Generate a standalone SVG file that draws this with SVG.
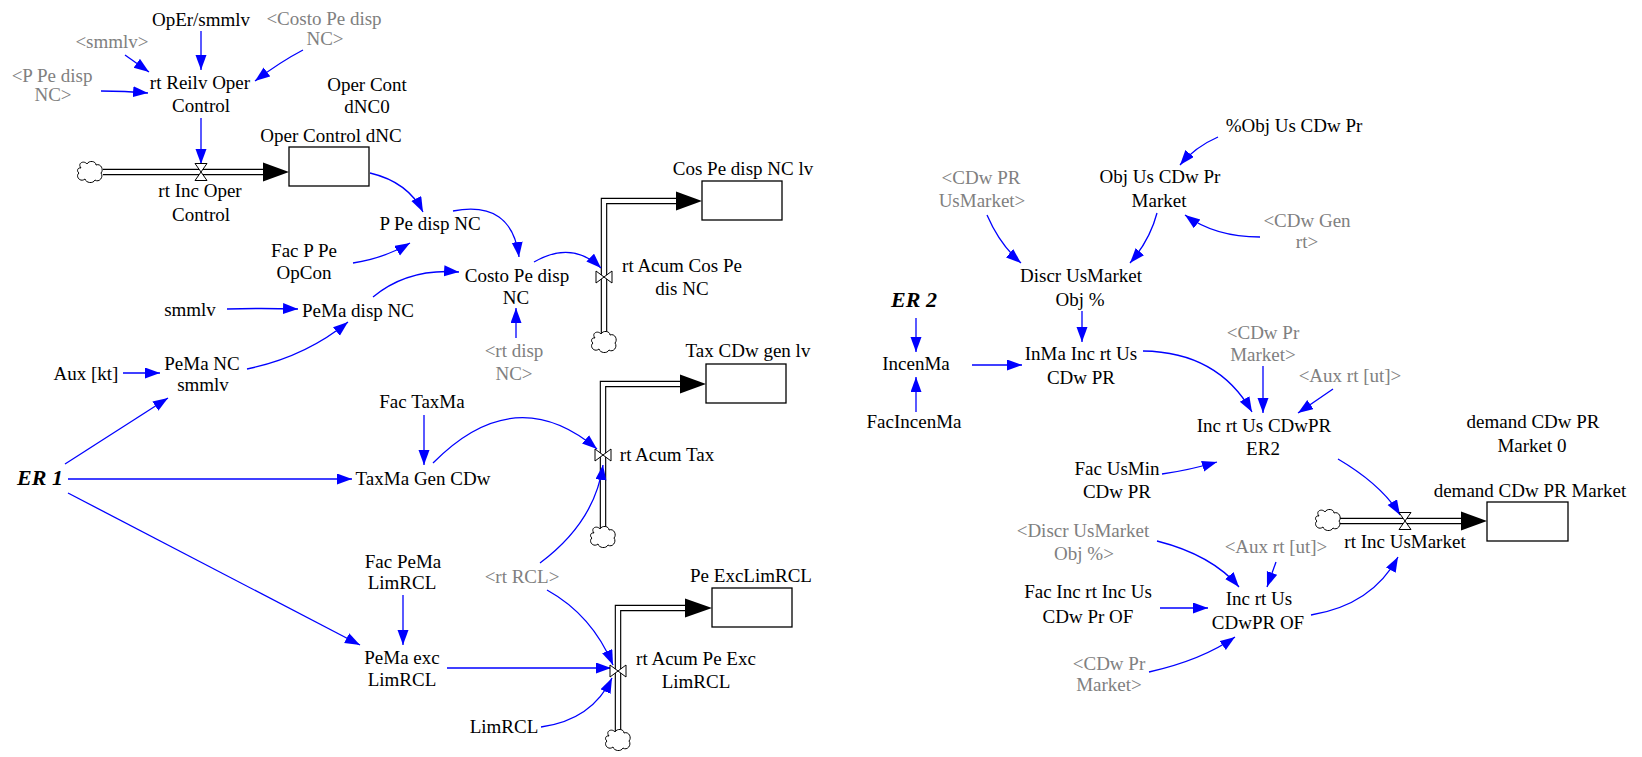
<svg xmlns="http://www.w3.org/2000/svg" width="1642" height="757" viewBox="0 0 1642 757">
<style>
text{font-family:"Liberation Serif","Times New Roman",serif;font-size:19px;fill:#000;text-anchor:middle}
.g{fill:#808080}
.er{font-weight:bold;font-style:italic;font-size:22px}
.lk{fill:none;stroke:#0000ff;stroke-width:1.3;marker-end:url(#ah)}
.stock{fill:#fff;stroke:#000;stroke-width:1.3}
.pipeo{fill:none;stroke:#000;stroke-width:6.5;stroke-linejoin:miter}
.pipei{fill:none;stroke:#fff;stroke-width:4.2;stroke-linejoin:miter}
.valve{fill:#fff;stroke:#000;stroke-width:1}
.cloud{fill:#fff;stroke:#000;stroke-width:1}
</style>
<defs>
<marker id="ah" markerUnits="userSpaceOnUse" markerWidth="16" markerHeight="12" refX="15" refY="5.5" orient="auto"><path d="M0,0 L15,5.5 L0,11 Z" fill="#0000ff"/></marker>
<path id="cl" d="M-9,-4 C-13,-9 -6,-12 -3,-8 C-1,-12 6,-11 6,-7 C11,-9 14,-2 11,1 C14,5 9,11 5,8 C3,12 -4,11 -5,7 C-10,11 -15,4 -11,1 C-14,-1 -12,-5 -9,-4 Z"/>
<path id="vh" d="M-6,-8.5 L6,-8.5 L-6,8.5 L6,8.5 Z"/>
<path id="vv" d="M-8,-6 L-8,6 L8,-6 L8,6 Z"/>
</defs>

<g id="pipes">
<path class="pipeo" d="M103,172 H266"/><path class="pipei" d="M101,172 H268"/>
<polygon points="263,162.5 289,172 263,181.5"/>
<path class="pipeo" d="M604,334 V201 H678"/><path class="pipei" d="M604,336 V201 H680"/>
<polygon points="676,191.5 702,201 676,210.5"/>
<path class="pipeo" d="M603,528 V384 H682"/><path class="pipei" d="M603,530 V384 H684"/>
<polygon points="680,374.5 706,384 680,393.5"/>
<path class="pipeo" d="M618,731 V608 H687"/><path class="pipei" d="M618,733 V608 H689"/>
<polygon points="685,598.5 712,608 685,617.5"/>
<path class="pipeo" d="M1340,521 H1463"/><path class="pipei" d="M1338,521 H1465"/>
<polygon points="1461,511.5 1487,521 1461,530.5"/>
</g>

<g id="clouds">
<use href="#cl" class="cloud" x="90" y="172"/>
<use href="#cl" class="cloud" x="604" y="342"/>
<use href="#cl" class="cloud" x="603" y="537"/>
<use href="#cl" class="cloud" x="618" y="740"/>
<use href="#cl" class="cloud" x="1328" y="520"/>
</g>

<g id="connectors">
<path class="lk" d="M201,31 L201,70"/>
<path class="lk" d="M125,55 L149,72"/>
<path class="lk" d="M101,91 Q125,91 148,93"/>
<path class="lk" d="M303,50 Q280,62 255,81"/>
<path class="lk" d="M201,118 L201,164"/>
<path class="lk" d="M370,173 Q408,182 423,212"/>
<path class="lk" d="M353,263 Q385,258 410,243"/>
<path class="lk" d="M453,211 Q512,200 519,257"/>
<path class="lk" d="M373,297 Q408,268 459,272"/>
<path class="lk" d="M534,262 Q572,240 601,268"/>
<path class="lk" d="M516,338 L516,308"/>
<path class="lk" d="M227,309 Q260,308 298,309"/>
<path class="lk" d="M247,369 Q305,357 348,322"/>
<path class="lk" d="M123,373 L160,373"/>
<path class="lk" d="M65,464 L168,398"/>
<path class="lk" d="M68,479 L352,479"/>
<path class="lk" d="M68,493 L360,645"/>
<path class="lk" d="M424,415 L424,465"/>
<path class="lk" d="M433,463 Q515,380 597,449"/>
<path class="lk" d="M540,563 Q595,522 603,465"/>
<path class="lk" d="M547,590 Q592,615 613,665"/>
<path class="lk" d="M403,595 L403,645"/>
<path class="lk" d="M447,668 L611,668"/>
<path class="lk" d="M541,727 Q592,720 612,678"/>
<path class="lk" d="M1218,137 Q1195,147 1180,165"/>
<path class="lk" d="M1260,237 Q1215,237 1185,215"/>
<path class="lk" d="M1157,213 Q1150,240 1130,263"/>
<path class="lk" d="M987,215 Q1000,245 1021,263"/>
<path class="lk" d="M1082,311 L1082,342"/>
<path class="lk" d="M916,318 L916,352"/>
<path class="lk" d="M916,412 L916,377"/>
<path class="lk" d="M972,365 L1022,365"/>
<path class="lk" d="M1143,351 Q1218,352 1252,412"/>
<path class="lk" d="M1263,366 L1263,413"/>
<path class="lk" d="M1333,389 L1298,413"/>
<path class="lk" d="M1162,474 Q1190,470 1217,462"/>
<path class="lk" d="M1338,459 Q1382,485 1400,515"/>
<path class="lk" d="M1157,541 Q1212,555 1239,587"/>
<path class="lk" d="M1276,562 L1267,587"/>
<path class="lk" d="M1160,608 L1208,608"/>
<path class="lk" d="M1311,615 Q1372,605 1398,557"/>
<path class="lk" d="M1149,672 Q1202,660 1235,637"/>
</g>

<g id="stock-oper-control-dnc"><rect class="stock" x="289" y="147" width="80" height="39"/><text x="331" y="142">Oper Control dNC</text></g>
<g id="stock-cos-pe-disp-nc-lv"><rect class="stock" x="702" y="181" width="80" height="39"/><text x="743" y="175">Cos Pe disp NC lv</text></g>
<g id="stock-tax-cdw-gen-lv"><rect class="stock" x="706" y="364" width="80" height="39"/><text x="748" y="357">Tax CDw gen lv</text></g>
<g id="stock-pe-exclimrcl"><rect class="stock" x="712" y="588" width="80" height="39"/><text x="751" y="582">Pe ExcLimRCL</text></g>
<g id="stock-demand"><rect class="stock" x="1487" y="502" width="81" height="39"/><text x="1530" y="497">demand CDw PR Market</text></g>

<g id="flow-rt-inc-oper-control"><use href="#vh" class="valve" x="201" y="172"/><text x="200" y="197">rt Inc Oper</text><text x="201" y="221">Control</text></g>
<g id="flow-rt-acum-cos-pe"><use href="#vv" class="valve" x="604" y="277"/><text x="682" y="272">rt Acum Cos Pe</text><text x="682" y="295">dis NC</text></g>
<g id="flow-rt-acum-tax"><use href="#vv" class="valve" x="603" y="455"/><text x="667" y="461">rt Acum Tax</text></g>
<g id="flow-rt-acum-pe-exc"><use href="#vv" class="valve" x="618" y="671"/><text x="696" y="665">rt Acum Pe Exc</text><text x="696" y="688">LimRCL</text></g>
<g id="flow-rt-inc-usmarket"><use href="#vh" class="valve" x="1405" y="521"/><text x="1405" y="548">rt Inc UsMarket</text></g>

<g id="oper-smmlv"><text x="201" y="26">OpEr/smmlv</text></g>
<g id="g-costo"><text class="g" x="324" y="25">&lt;Costo Pe disp</text><text class="g" x="325" y="45">NC&gt;</text></g>
<g id="g-smmlv"><text class="g" x="112" y="48">&lt;smmlv&gt;</text></g>
<g id="g-ppe"><text class="g" x="52" y="82">&lt;P Pe disp</text><text class="g" x="53" y="101">NC&gt;</text></g>
<g id="rt-reilv"><text x="200" y="89">rt Reilv Oper</text><text x="201" y="112">Control</text></g>
<g id="oper-cont-0"><text x="367" y="91">Oper Cont</text><text x="367" y="113">dNC0</text></g>
<g id="p-pe-disp-nc"><text x="430" y="230">P Pe disp NC</text></g>
<g id="fac-p-pe"><text x="304" y="257">Fac P Pe</text><text x="304" y="279">OpCon</text></g>
<g id="costo-pe-disp"><text x="517" y="282">Costo Pe disp</text><text x="516" y="304">NC</text></g>
<g id="smmlv"><text x="190" y="316">smmlv</text></g>
<g id="pema-disp-nc"><text x="358" y="317">PeMa disp NC</text></g>
<g id="g-rt-disp"><text class="g" x="514" y="357">&lt;rt disp</text><text class="g" x="514" y="380">NC&gt;</text></g>
<g id="aux-kt"><text x="86" y="380">Aux [kt]</text></g>
<g id="pema-nc"><text x="202" y="370">PeMa NC</text><text x="203" y="391">smmlv</text></g>
<g id="fac-taxma"><text x="422" y="408">Fac TaxMa</text></g>
<g id="er1"><text class="er" x="40" y="485">ER 1</text></g>
<g id="taxma-gen"><text x="423" y="485">TaxMa Gen CDw</text></g>
<g id="fac-pema"><text x="403" y="568">Fac PeMa</text><text x="402" y="589">LimRCL</text></g>
<g id="g-rt-rcl"><text class="g" x="522" y="583">&lt;rt RCL&gt;</text></g>
<g id="pema-exc"><text x="402" y="664">PeMa exc</text><text x="402" y="686">LimRCL</text></g>
<g id="limrcl"><text x="504" y="733">LimRCL</text></g>

<g id="pobj"><text x="1294" y="132">%Obj Us CDw Pr</text></g>
<g id="obj-us"><text x="1160" y="183">Obj Us CDw Pr</text><text x="1159" y="207">Market</text></g>
<g id="g-cdw-pr-usm"><text class="g" x="981" y="184">&lt;CDw PR</text><text class="g" x="982" y="207">UsMarket&gt;</text></g>
<g id="g-cdw-gen"><text class="g" x="1307" y="227">&lt;CDw Gen</text><text class="g" x="1307" y="248">rt&gt;</text></g>
<g id="discr"><text x="1081" y="282">Discr UsMarket</text><text x="1080" y="306">Obj %</text></g>
<g id="er2"><text class="er" x="914" y="307">ER 2</text></g>
<g id="incenma"><text x="916" y="370">IncenMa</text></g>
<g id="facincenma"><text x="914" y="428">FacIncenMa</text></g>
<g id="inma"><text x="1081" y="360">InMa Inc rt Us</text><text x="1081" y="384">CDw PR</text></g>
<g id="g-cdw-pr-m1"><text class="g" x="1263" y="339">&lt;CDw Pr</text><text class="g" x="1263" y="361">Market&gt;</text></g>
<g id="g-aux-rt1"><text class="g" x="1350" y="382">&lt;Aux rt [ut]&gt;</text></g>
<g id="inc-er2"><text x="1264" y="432">Inc rt Us CDwPR</text><text x="1263" y="455">ER2</text></g>
<g id="demand0"><text x="1533" y="428">demand CDw PR</text><text x="1532" y="452">Market 0</text></g>
<g id="fac-usmin"><text x="1117" y="475">Fac UsMin</text><text x="1117" y="498">CDw PR</text></g>
<g id="g-discr"><text class="g" x="1083" y="537">&lt;Discr UsMarket</text><text class="g" x="1084" y="560">Obj %&gt;</text></g>
<g id="g-aux-rt2"><text class="g" x="1276" y="553">&lt;Aux rt [ut]&gt;</text></g>
<g id="fac-inc"><text x="1088" y="598">Fac Inc rt Inc Us</text><text x="1088" y="623">CDw Pr OF</text></g>
<g id="inc-of"><text x="1259" y="605">Inc rt Us</text><text x="1258" y="629">CDwPR OF</text></g>
<g id="g-cdw-pr-m2"><text class="g" x="1109" y="670">&lt;CDw Pr</text><text class="g" x="1109" y="691">Market&gt;</text></g>
</svg>
